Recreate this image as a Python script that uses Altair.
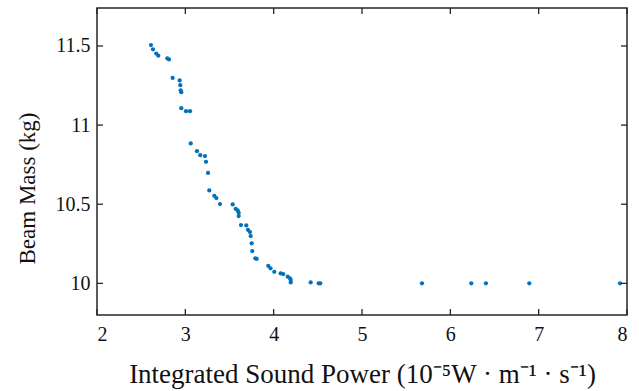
import altair as alt
import pandas as pd

# Integrated sound power (1e-5 W/m/s) and beam mass (kg)
power = [2.611, 2.634, 2.671, 2.694, 2.796, 2.815, 2.856, 2.936, 2.943, 2.947,
         2.954, 2.954, 3.008, 3.053, 3.061, 3.132, 3.169, 3.223, 3.234, 3.257,
         3.271, 3.328, 3.351, 3.392, 3.536, 3.570, 3.593, 3.604, 3.604, 3.630,
         3.690, 3.709, 3.732, 3.740, 3.751, 3.758, 3.792, 3.808, 3.939, 3.964,
         4.007, 4.079, 4.109, 4.159, 4.185, 4.193, 4.193, 4.419, 4.510, 4.528,
         5.679, 6.237, 6.403, 6.894, 7.921]
mass = [11.506, 11.479, 11.452, 11.439, 11.422, 11.415, 11.298, 11.282, 11.252, 11.220,
        11.208, 11.107, 11.088, 11.088, 10.884, 10.835, 10.810, 10.804, 10.768, 10.698,
        10.587, 10.553, 10.539, 10.501, 10.499, 10.471, 10.461, 10.446, 10.425, 10.368,
        10.366, 10.338, 10.324, 10.299, 10.253, 10.204, 10.158, 10.155, 10.111, 10.095,
        10.073, 10.063, 10.059, 10.042, 10.032, 10.021, 10.006, 10.006, 10.000, 10.000,
        10.000, 10.000, 10.000, 10.000, 10.000]

x_ticks = [2, 3, 4, 5, 6, 7, 8]
y_ticks = [10, 10.5, 11, 11.5]

W, H = 530, 307
FONT = "Liberation Serif"
FRAME = "#262626"
TL = 6

df = pd.DataFrame({"power": power, "mass": mass})
xt = pd.DataFrame({"v": x_ticks})
yt = pd.DataFrame({"v": y_ticks})

xscale = alt.Scale(domain=[2, 8], nice=False, zero=False)
yscale = alt.Scale(domain=[9.8, 11.74], nice=False, zero=False)

points = alt.Chart(df).mark_circle(size=18, color="#0072BD", opacity=1).encode(
    x=alt.X("power:Q", scale=xscale,
            title="Integrated Sound Power (10⁻⁵W · m⁻¹ · s⁻¹)",
            axis=alt.Axis(values=x_ticks, format="~g", ticks=False, domain=False, grid=False,
                          labelFont=FONT, labelFontSize=20, labelColor="#111",
                          labelPadding=9, titleFont=FONT, titleFontSize=27,
                          titleFontWeight="normal", titleColor="#111", titlePadding=17)),
    y=alt.Y("mass:Q", scale=yscale, title="Beam Mass (kg)",
            axis=alt.Axis(values=y_ticks, format="~g", ticks=False, domain=False, grid=False,
                          labelFont=FONT, labelFontSize=20, labelColor="#111",
                          labelPadding=7, titleFont=FONT, titleFontSize=23,
                          titleFontWeight="normal", titleColor="#111", titlePadding=16,
                          titleY=180)),
)

tick_style = dict(color=FRAME, thickness=1.3, size=TL, opacity=1)
left_ticks = alt.Chart(yt).mark_tick(orient="horizontal", **tick_style).encode(
    y=alt.Y("v:Q", scale=yscale), x=alt.value(TL / 2))
right_ticks = alt.Chart(yt).mark_tick(orient="horizontal", **tick_style).encode(
    y=alt.Y("v:Q", scale=yscale), x=alt.value(W - TL / 2))
bottom_ticks = alt.Chart(xt).mark_tick(orient="vertical", **tick_style).encode(
    x=alt.X("v:Q", scale=xscale), y=alt.value(H - TL / 2))
top_ticks = alt.Chart(xt).mark_tick(orient="vertical", **tick_style).encode(
    x=alt.X("v:Q", scale=xscale), y=alt.value(TL / 2))

chart = alt.layer(points, left_ticks, right_ticks, bottom_ticks, top_ticks).properties(
    width=W, height=H,
    autosize=alt.AutoSizeParams(type="none"),
    padding={"left": 97, "top": 8, "right": 12, "bottom": 76},
    background="white",
).configure_view(stroke=FRAME, strokeWidth=1.5)

chart.save("out.html", embed_options={"renderer": "svg", "actions": False})
